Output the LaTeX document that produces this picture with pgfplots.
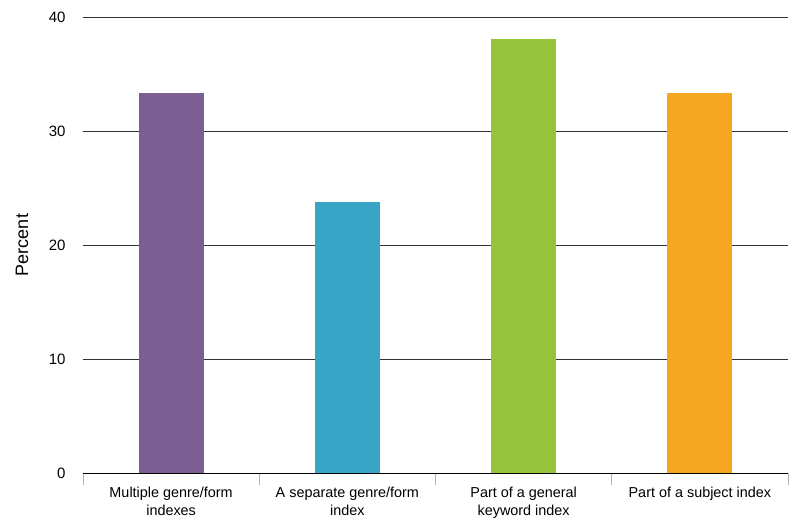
\documentclass[border=0pt]{standalone}
\usepackage{fontspec}
\setmainfont{Liberation Sans}
\usepackage{pgfplots}
\pgfplotsset{compat=1.18}
\definecolor{cpurple}{HTML}{7B5E92}
\definecolor{cteal}{HTML}{38A4C6}
\definecolor{cgreen}{HTML}{98C43D}
\definecolor{corange}{HTML}{F5A623}
\begin{document}
\begin{tikzpicture}
\begin{axis}[
  name=ax,
  scale only axis,
  width=705pt, height=456pt,
  xmin=-0.5, xmax=3.5,
  ymin=0, ymax=40,
  ytick={0,10,20,30,40},
  ymajorgrids,
  grid style={black!80, line width=0.6pt},
  axis x line*=bottom,
  axis y line*=left,
  y axis line style={draw=none},
  x axis line style={black, line width=0.7pt},
  ytick style={draw=none},
  xtick={-0.5,0.5,1.5,2.5,3.5},
  xticklabels={},
  xtick align=outside,
  xtick style={draw=black!30, line width=0.6pt},
  major tick length=12pt,
  extra x ticks={0,1,2,3},
  extra x tick labels={{Multiple genre/form\\indexes},{A separate genre/form\\index},{Part of a general\\keyword index},{Part of a subject index}},
  extra x tick style={major tick length=0pt, tick style={draw=none}, grid=none, xticklabel style={yshift=-11pt}},
  xticklabel style={align=center, font=\fontsize{14.4}{18}\selectfont},
  yticklabel style={font=\fontsize{15}{17}\selectfont, xshift=-14pt},
  /pgf/number format/assume math mode=true,
  ylabel={Percent},
  every axis y label/.style={at={(axis description cs:-0.0865,0.5)}, rotate=90, anchor=center, font=\fontsize{18}{20}\selectfont},
  ybar, bar width=65pt, bar shift=0pt,
]
\addplot[fill=cpurple, draw=none] coordinates {(0,33.3)};
\addplot[fill=cteal, draw=none] coordinates {(1,23.8)};
\addplot[fill=cgreen, draw=none] coordinates {(2,38.1)};
\addplot[fill=corange, draw=none] coordinates {(3,33.3)};
\end{axis}
\pgfresetboundingbox
\path ([xshift=-83pt,yshift=-47pt]ax.south west) rectangle ([xshift=8pt,yshift=17pt]ax.north east);
\end{tikzpicture}
\end{document}
